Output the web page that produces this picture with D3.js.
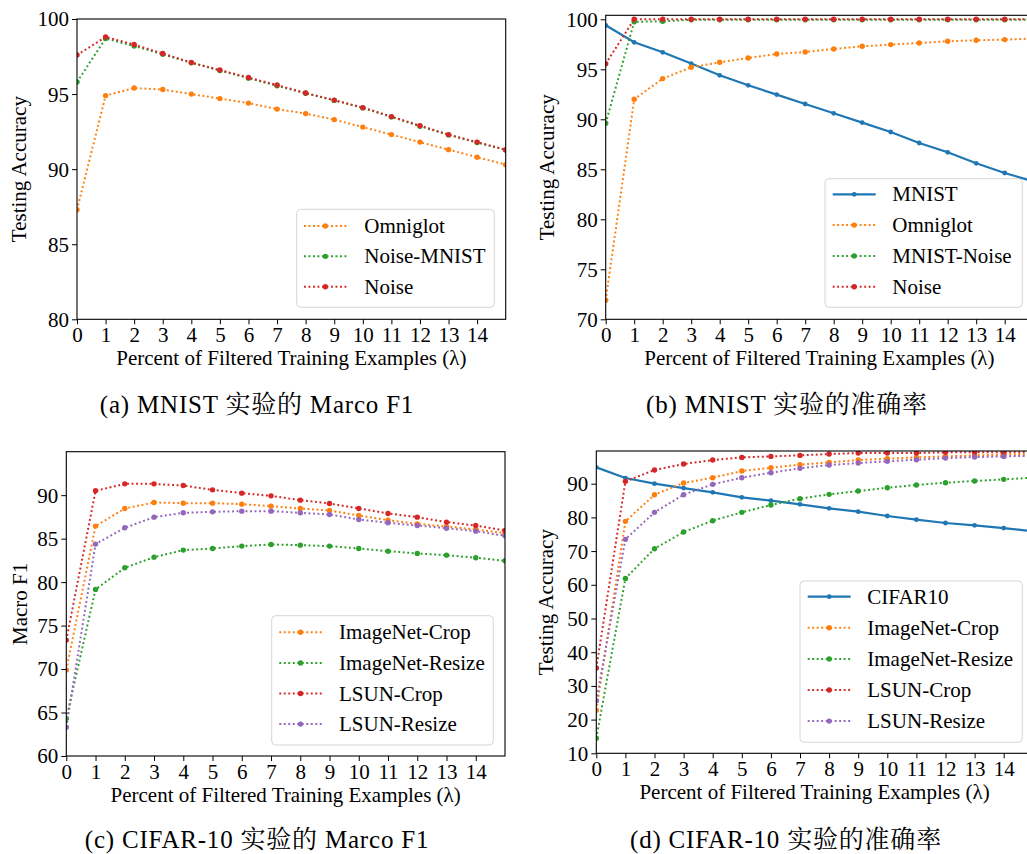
<!DOCTYPE html>
<html>
<head>
<meta charset="utf-8">
<script src="https://cdn.jsdelivr.net/npm/d3@7"></script>
<style>
  html, body { margin: 0; padding: 0; background: #fff; }
  svg { display: block; }
</style>
</head>
<body>
<svg id="fig" width="1027" height="854"></svg>
<script>
// Percent of filtered training examples (λ) for every curve
const lambdaSteps = [0, 1, 2, 3, 4, 5, 6, 7, 8, 9, 10, 11, 12, 13, 14, 15];
const xTickValues = [0, 1, 2, 3, 4, 5, 6, 7, 8, 9, 10, 11, 12, 13, 14];

// (a) MNIST, Macro F1
const mnistF1Omniglot   = [87.3, 94.9, 95.4, 95.3, 95.0, 94.7, 94.4, 94.0, 93.7, 93.3, 92.8, 92.3, 91.8, 91.3, 90.8, 90.3];
const mnistF1NoiseMnist = [95.8, 98.7, 98.2, 97.65, 97.08, 96.57, 96.06, 95.55, 95.05, 94.58, 94.08, 93.48, 92.86, 92.28, 91.77, 91.27];
const mnistF1Noise      = [97.6, 98.8, 98.3, 97.7, 97.1, 96.6, 96.1, 95.6, 95.07, 94.6, 94.1, 93.5, 92.9, 92.3, 91.8, 91.3];
const yTicksA = [80, 85, 90, 95, 100];

// (b) MNIST, accuracy
const mnistAccMnist      = [99.4, 97.7, 96.7, 95.57, 94.4, 93.4, 92.47, 91.53, 90.6, 89.67, 88.73, 87.63, 86.7, 85.6, 84.63, 83.8];
const mnistAccOmniglot   = [71.9, 92.0, 94.07, 95.2, 95.7, 96.13, 96.53, 96.73, 97.03, 97.3, 97.47, 97.63, 97.8, 97.9, 97.97, 98.07];
const mnistAccMnistNoise = [89.6, 99.75, 99.8, 99.95, 99.95, 99.95, 99.95, 99.95, 99.95, 99.95, 99.95, 99.95, 99.95, 99.95, 99.95, 99.95];
const mnistAccNoise      = [95.55, 100, 100, 100, 100, 100, 100, 100, 100, 100, 100, 100, 100, 100, 100, 100];
const yTicksB = [70, 75, 80, 85, 90, 95, 100];

// (c) CIFAR-10, Macro F1
const cifarF1ImagenetCrop   = [69.9, 86.44, 88.47, 89.16, 89.08, 89.08, 88.97, 88.74, 88.47, 88.24, 87.66, 87.13, 86.7, 86.4, 86.05, 85.63];
const cifarF1ImagenetResize = [64.3, 79.16, 81.65, 82.87, 83.68, 83.87, 84.14, 84.33, 84.25, 84.14, 83.87, 83.56, 83.3, 83.1, 82.8, 82.45];
const cifarF1LsunCrop       = [73.33, 90.5, 91.3, 91.3, 91.11, 90.61, 90.23, 89.92, 89.43, 89.04, 88.47, 87.9, 87.47, 86.9, 86.51, 85.94];
const cifarF1LsunResize     = [63.3, 84.37, 86.25, 87.47, 87.97, 88.08, 88.16, 88.16, 87.97, 87.78, 87.2, 86.82, 86.51, 86.2, 85.86, 85.33];
const yTicksC = [60, 65, 70, 75, 80, 85, 90];

// (d) CIFAR-10, accuracy
const cifarAccCifar10        = [94.85, 91.68, 90.0, 88.71, 87.43, 85.94, 84.96, 83.87, 82.68, 81.69, 80.41, 79.32, 78.33, 77.64, 76.84, 75.9];
const cifarAccImagenetCrop   = [22.8, 78.82, 86.74, 90.2, 91.78, 93.76, 94.75, 95.64, 96.33, 97.02, 97.42, 97.8, 98.1, 98.4, 98.6, 98.8];
const cifarAccImagenetResize = [14.5, 61.9, 70.71, 75.66, 79.02, 81.5, 83.67, 85.55, 86.83, 87.82, 88.81, 89.6, 90.3, 90.79, 91.29, 91.78];
const cifarAccLsunCrop       = [35.3, 90.69, 94.06, 95.84, 97.02, 97.8, 98.1, 98.4, 98.8, 99.1, 99.1, 99.1, 99.3, 99.3, 99.3, 99.4];
const cifarAccLsunResize     = [25.6, 73.48, 81.5, 86.74, 89.8, 91.78, 93.26, 94.55, 95.54, 96.13, 96.63, 97.12, 97.6, 97.9, 98.1, 98.3];
const yTicksD = [10, 20, 30, 40, 50, 60, 70, 80, 90];

const xLabel = "Percent of Filtered Training Examples (λ)";
const captions = ["(a) MNIST 实验的 Marco F1", "(b) MNIST 实验的准确率",
                  "(c) CIFAR-10 实验的 Marco F1", "(d) CIFAR-10 实验的准确率"];

const C = { blue: "#1f77b4", orange: "#ff7f0e", green: "#2ca02c", red: "#d62728", purple: "#9467bd" };

const panels = [
  {
    box: { left: 77, right: 505.7, top: 19, bottom: 319.3 }, yDomain: [80, 100], yTicks: yTicksA,
    yLabel: "Testing Accuracy", yLabelX: 26,
    series: [
      { name: "Omniglot", values: mnistF1Omniglot, color: C.orange, solid: false },
      { name: "Noise-MNIST", values: mnistF1NoiseMnist, color: C.green, solid: false },
      { name: "Noise", values: mnistF1Noise, color: C.red, solid: false }
    ],
    legend: { x0: 296.7, x1: 494.3, y0: 209.3, y1: 307.3, row0: 226, rowStep: 30.35, h0: 304, h1: 346.7, tx: 364.3 }
  },
  {
    box: { left: 605.7, right: 605.7 + 15 * 28.5, top: 15.3, bottom: 319.3 }, yDomain: [70, 100.4], yTicks: yTicksB,
    yLabel: "Testing Accuracy", yLabelX: 554,
    series: [
      { name: "MNIST", values: mnistAccMnist, color: C.blue, solid: true },
      { name: "Omniglot", values: mnistAccOmniglot, color: C.orange, solid: false },
      { name: "MNIST-Noise", values: mnistAccMnistNoise, color: C.green, solid: false },
      { name: "Noise", values: mnistAccNoise, color: C.red, solid: false }
    ],
    legend: { x0: 825, x1: 1022.3, y0: 178.7, y1: 307.3, row0: 194.3, rowStep: 30.8, h0: 832.7, h1: 875.7, tx: 892.3 }
  },
  {
    box: { left: 66.3, right: 505, top: 451.7, bottom: 756 }, yDomain: [60, 95], yTicks: yTicksC,
    yLabel: "Macro F1", yLabelX: 26.5,
    series: [
      { name: "ImageNet-Crop", values: cifarF1ImagenetCrop, color: C.orange, solid: false },
      { name: "ImageNet-Resize", values: cifarF1ImagenetResize, color: C.green, solid: false },
      { name: "LSUN-Crop", values: cifarF1LsunCrop, color: C.red, solid: false },
      { name: "LSUN-Resize", values: cifarF1LsunResize, color: C.purple, solid: false }
    ],
    legend: { x0: 271.7, x1: 493.3, y0: 615.7, y1: 745, row0: 632.3, rowStep: 30.6, h0: 279.3, h1: 321.7, tx: 339 }
  },
  {
    box: { left: 596.3, right: 596.3 + 15 * 29.1, top: 451, bottom: 753.3 }, yDomain: [10, 99.7], yTicks: yTicksD,
    yLabel: "Testing Accuracy", yLabelX: 553,
    series: [
      { name: "CIFAR10", values: cifarAccCifar10, color: C.blue, solid: true },
      { name: "ImageNet-Crop", values: cifarAccImagenetCrop, color: C.orange, solid: false },
      { name: "ImageNet-Resize", values: cifarAccImagenetResize, color: C.green, solid: false },
      { name: "LSUN-Crop", values: cifarAccLsunCrop, color: C.red, solid: false },
      { name: "LSUN-Resize", values: cifarAccLsunResize, color: C.purple, solid: false }
    ],
    legend: { x0: 800, x1: 1022.3, y0: 581, y1: 742.3, row0: 596.7, rowStep: 31.1, h0: 807.7, h1: 850.7, tx: 867.3 }
  }
];

const svg = d3.select("#fig");
const FONT = 21;
const SERIF = "'Liberation Serif', 'Times New Roman', Times, serif";
const CAPTION_FONT = "'Liberation Serif', 'Noto Serif CJK SC', 'Noto Sans CJK SC', serif";

function lineStyle(sel, s) {
  sel.attr("fill", "none").attr("stroke", s.color)
     .attr("stroke-width", s.solid ? 2.2 : 2)
     .attr("stroke-dasharray", s.solid ? null : "1.9,2.6");
}

function serifText(sel, size) {
  return sel.attr("font-family", SERIF).attr("font-size", size).attr("fill", "#000");
}

panels.forEach((p, i) => {
  const b = p.box;
  const x = d3.scaleLinear().domain([0, 15]).range([b.left, b.right]);
  const y = d3.scaleLinear().domain(p.yDomain).range([b.bottom, b.top]);
  const g = svg.append("g");

  const clipId = "clip" + i;
  svg.append("defs").append("clipPath").attr("id", clipId)
    .append("rect").attr("x", b.left).attr("y", b.top)
    .attr("width", b.right - b.left).attr("height", b.bottom - b.top);

  // curves with point markers
  const plot = g.append("g").attr("clip-path", `url(#${clipId})`);
  const line = d3.line().x((d, k) => x(lambdaSteps[k])).y(d => y(d));
  p.series.forEach(s => {
    plot.append("path").datum(s.values).attr("d", line).call(lineStyle, s);
    plot.selectAll(null).data(s.values).enter().append("circle")
      .attr("cx", (d, k) => x(lambdaSteps[k])).attr("cy", d => y(d))
      .attr("r", s.solid ? 2.4 : 2.7).attr("fill", s.color);
  });

  // axes
  const xAxis = d3.axisBottom(x).tickValues(xTickValues).tickFormat(d3.format("d")).tickSizeOuter(0).tickSize(5).tickPadding(4);
  const yAxis = d3.axisLeft(y).tickValues(p.yTicks).tickFormat(d3.format("d")).tickSizeOuter(0).tickSize(5).tickPadding(3);
  const gx = g.append("g").attr("transform", `translate(0,${b.bottom})`).call(xAxis);
  const gy = g.append("g").attr("transform", `translate(${b.left},0)`).call(yAxis);
  [gx, gy].forEach(a => {
    a.attr("font-family", SERIF).attr("font-size", FONT);
    a.select(".domain").remove();
    a.selectAll(".tick line").attr("stroke", "#000").attr("stroke-width", 1);
    a.selectAll(".tick text").call(serifText, FONT);
  });
  gx.selectAll(".tick text").attr("dy", null).attr("y", 23);
  gy.selectAll(".tick text").attr("dy", "0.33em");

  // frame
  g.append("rect").attr("x", b.left).attr("y", b.top)
    .attr("width", b.right - b.left).attr("height", b.bottom - b.top)
    .attr("fill", "none").attr("stroke", "#000").attr("stroke-width", 1.1);

  // axis labels
  g.append("text").call(serifText, FONT).attr("text-anchor", "middle")
    .attr("x", (b.left + b.right) / 2).attr("y", b.bottom + 46).text(xLabel);
  g.append("text").call(serifText, FONT).attr("text-anchor", "middle")
    .attr("transform", `translate(${p.yLabelX},${(b.top + b.bottom) / 2}) rotate(-90)`).text(p.yLabel);

  // legend
  const L = p.legend;
  const lg = g.append("g");
  lg.append("rect").attr("x", L.x0).attr("y", L.y0).attr("width", L.x1 - L.x0).attr("height", L.y1 - L.y0)
    .attr("rx", 4).attr("fill", "#fff").attr("fill-opacity", 0.8).attr("stroke", "#d6d6d6").attr("stroke-width", 1);
  p.series.forEach((s, k) => {
    const ry = L.row0 + k * L.rowStep;
    lg.append("path").attr("d", `M${L.h0},${ry}H${L.h1}`).call(lineStyle, s);
    lg.append("circle").attr("cx", (L.h0 + L.h1) / 2).attr("cy", ry).attr("r", s.solid ? 2.4 : 2.7).attr("fill", s.color);
    lg.append("text").call(serifText, FONT).attr("x", L.tx).attr("y", ry + 7).text(s.name);
  });
});

// sub-figure captions
const capPos = [[257, 413], [787, 413], [257, 848], [786, 848]];
captions.forEach((t, i) => {
  svg.append("text").attr("font-family", CAPTION_FONT).attr("font-size", 25).attr("fill", "#000")
    .attr("letter-spacing", 0.8).attr("text-anchor", "middle")
    .attr("x", capPos[i][0]).attr("y", capPos[i][1]).text(t);
});
</script>
</body>
</html>
